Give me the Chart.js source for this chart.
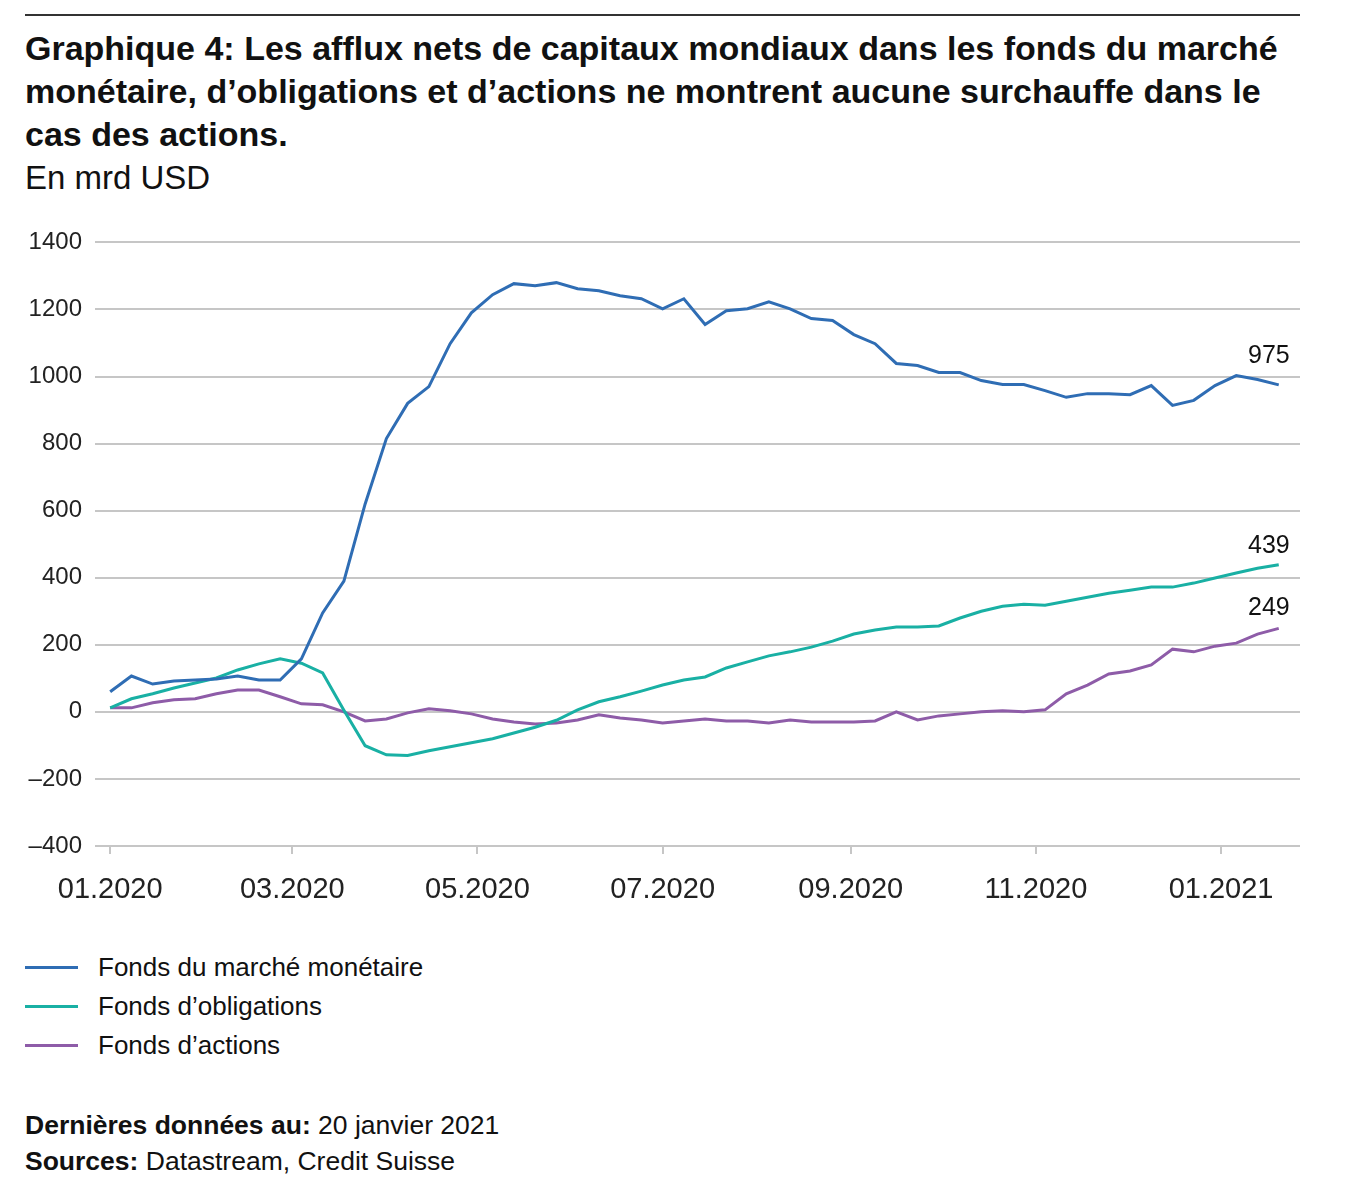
<!DOCTYPE html>
<html>
<head>
<meta charset="utf-8">
<script src="https://cdn.jsdelivr.net/npm/chart.js@4.4.1/dist/chart.umd.min.js"></script>
<style>
    body { margin: 0; background: #fff; font-family: "Liberation Sans", Arial, sans-serif; color: #111; }
    #page { position: relative; width: 1346px; height: 1200px; }
    .rule { position: absolute; left: 25px; top: 14px; width: 1275px; height: 2px; background: #333; }
    h1 { position: absolute; left: 25px; top: 27px; margin: 0; font-size: 34px; line-height: 43px; font-weight: bold; white-space: nowrap; }
    .sub { position: absolute; left: 25px; top: 160px; font-size: 33px; line-height: 36px; }
    #chartBox { position: absolute; left: 0; top: 215px; width: 1346px; height: 705px; }
    .legend { position: absolute; left: 25px; top: 948px; }
    .legend div { height: 39px; font-size: 26px; display: flex; align-items: center; }
    .legend .sw { display: inline-block; width: 53px; height: 3px; margin-right: 20px; }
    .foot { position: absolute; left: 25px; top: 1107px; font-size: 26.5px; line-height: 36px; }
</style>
</head>
<body>
<div id="page">
    <div class="rule"></div>
    <h1>Graphique 4: Les afflux nets de capitaux mondiaux dans les fonds du marché<br>monétaire, d’obligations et d’actions ne montrent aucune surchauffe dans le<br>cas des actions.</h1>
    <div class="sub">En mrd USD</div>
    <div id="chartBox"><canvas id="flowChart" width="1346" height="705"></canvas></div>
    <div class="legend" id="legend"></div>
    <div class="foot"><b>Dernières données au:</b> 20 janvier 2021<br><b>Sources:</b> Datastream, Credit Suisse</div>
</div>
<script>
// weekly data, Wednesdays from 01.01.2020 to 20.01.2021
const moneyMarket = [60, 107, 83, 92, 95, 98, 107, 95, 95, 158, 295, 390, 620, 815, 920, 970,
    1098, 1190, 1244, 1277, 1271, 1280, 1262, 1256, 1241, 1232, 1202, 1232, 1155, 1196, 1202, 1223,
    1202, 1173, 1167, 1125, 1098, 1039, 1033, 1012, 1012, 988, 976, 976, 958, 938, 949, 949,
    946, 973, 914, 929, 973, 1003, 991, 975];
const bonds = [12, 39, 54, 71, 86, 101, 125, 143, 158, 145, 116, 5, -101, -128, -130, -116,
    -104, -92, -80, -63, -46, -25, 6, 30, 45, 62, 80, 95, 104, 131, 149, 167,
    179, 193, 211, 232, 244, 253, 253, 256, 280, 300, 315, 321, 318, 330, 342, 354,
    363, 372, 372, 384, 399, 414, 428, 439];
const equities = [12, 12, 27, 36, 39, 54, 65, 65, 45, 24, 21, 0, -27, -21, -3, 9,
    3, -6, -21, -30, -36, -33, -24, -9, -18, -24, -33, -27, -21, -27, -27, -33,
    -24, -30, -30, -30, -27, 0, -24, -12, -6, 0, 3, 0, 6, 54, 80, 113,
    122, 140, 187, 179, 196, 205, 232, 249];

const seriesNames = ['Fonds du marché monétaire', 'Fonds d’obligations', 'Fonds d’actions'];
const seriesColors = ['#2f6db4', '#19b0a4', '#8e5ca8'];

// days since 01.01.2020 for the month ticks
const tickDays = [0, 60, 121, 182, 244, 305, 366];
const tickLabels = ['01.2020', '03.2020', '05.2020', '07.2020', '09.2020', '11.2020', '01.2021'];

const weekDays = moneyMarket.map((v, i) => i * 7);

function toPoints(values) {
    return values.map((v, i) => ({ x: weekDays[i], y: v }));
}

// legend in html
const legendEl = document.getElementById('legend');
seriesNames.forEach((name, i) => {
    const row = document.createElement('div');
    row.innerHTML = '<span class="sw" style="background:' + seriesColors[i] + '"></span>' + name;
    legendEl.appendChild(row);
});

// last value above the end of each line
const labelLift = [16, 6, 8];
const endLabels = {
    id: 'endLabels',
    afterDatasetsDraw(chart) {
        const ctx = chart.ctx;
        ctx.save();
        ctx.font = '25px "Liberation Sans", Arial, sans-serif';
        ctx.fillStyle = '#111';
        ctx.textAlign = 'right';
        ctx.textBaseline = 'bottom';
        chart.data.datasets.forEach((ds, i) => {
            const pts = chart.getDatasetMeta(i).data;
            const last = pts[pts.length - 1];
            const val = ds.data[ds.data.length - 1].y;
            ctx.fillText(String(val), last.x + 11, last.y - labelLift[i]);
        });
        ctx.restore();
    }
};

const datasets = [moneyMarket, bonds, equities].map((values, i) => ({
    label: seriesNames[i],
    data: toPoints(values),
    borderColor: seriesColors[i],
    backgroundColor: seriesColors[i],
    borderWidth: 3,
    pointRadius: 0,
    tension: 0
}));

const flowChart = new Chart(document.getElementById('flowChart'), {
    type: 'line',
    data: { datasets: datasets },
    options: {
        responsive: false,
        animation: false,
        layout: { padding: { top: 16, right: 46, left: 0, bottom: 0 } },
        plugins: {
            legend: { display: false },
            tooltip: { enabled: false }
        },
        scales: {
            x: {
                type: 'linear',
                min: -5,
                max: 392,
                afterBuildTicks: (scale) => { scale.ticks = tickDays.map(v => ({ value: v })); },
                afterFit: (scale) => { scale.height = 74; },
                grid: { drawOnChartArea: false, drawTicks: true, tickLength: 8, color: '#c6c6c6', lineWidth: 2 },
                border: { display: false },
                ticks: {
                    autoSkip: false,
                    maxRotation: 0,
                    padding: 19,
                    color: '#222',
                    font: { size: 29, family: '"Liberation Sans", Arial, sans-serif' },
                    callback: (v) => tickLabels[tickDays.indexOf(v)]
                }
            },
            y: {
                min: -400,
                max: 1400,
                afterFit: (scale) => { scale.width = 95; },
                grid: { drawTicks: false, color: '#c6c6c6', lineWidth: 2 },
                border: { display: false },
                ticks: {
                    stepSize: 200,
                    padding: 13,
                    color: '#222',
                    font: { size: 24, family: '"Liberation Sans", Arial, sans-serif' },
                    callback: (v) => v < 0 ? '–' + Math.abs(v) : String(v)
                }
            }
        }
    },
    plugins: [endLabels]
});
</script>
</body>
</html>
